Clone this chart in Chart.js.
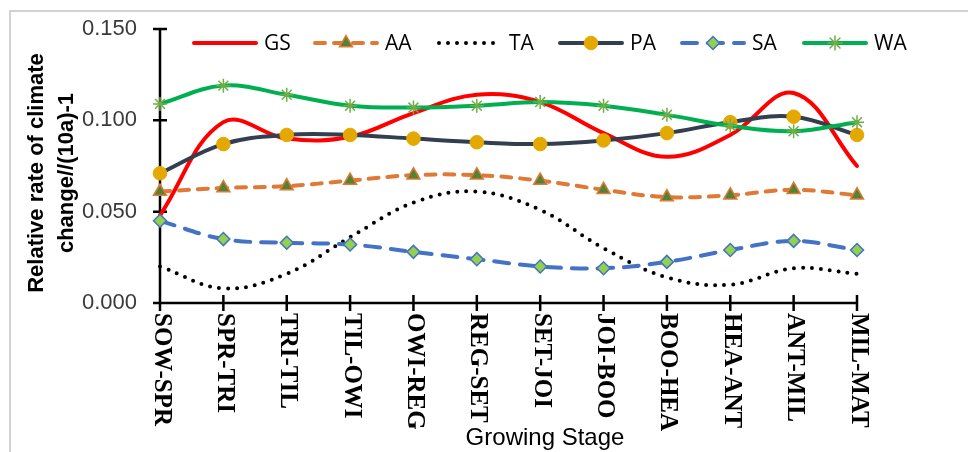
<!DOCTYPE html>
<html>
<head>
<meta charset="utf-8">
<script src="https://cdn.jsdelivr.net/npm/chart.js@4.4.1/dist/chart.umd.min.js"></script>
<style>
html,body{margin:0;padding:0;background:#ffffff;}
#wrap{width:968px;height:452px;position:relative;overflow:hidden;}
</style>
</head>
<body>
<div id="wrap"><canvas id="c" width="968" height="452"></canvas></div>
<script>
// ---- data ----
const categories = ['SOW-SPR','SPR-TRI','TRI-TIL','TIL-OWI','OWI-REG','REG-SET','SET-JOI','JOI-BOO','BOO-HEA','HEA-ANT','ANT-MIL','MIL-MAT'];
const GS = [0.048,0.099,0.090,0.091,0.104,0.114,0.110,0.093,0.080,0.092,0.115,0.075];
const AA = [0.061,0.063,0.064,0.067,0.070,0.070,0.067,0.062,0.058,0.059,0.062,0.059];
const TA = [0.020,0.008,0.016,0.036,0.055,0.061,0.051,0.030,0.014,0.010,0.019,0.016];
const PA = [0.071,0.087,0.092,0.092,0.090,0.088,0.087,0.089,0.093,0.099,0.102,0.092];
const SA = [0.045,0.035,0.033,0.032,0.028,0.024,0.020,0.019,0.0225,0.029,0.034,0.029];
const WA = [0.109,0.119,0.114,0.108,0.107,0.108,0.110,0.108,0.103,0.097,0.094,0.099];
const seriesNames = ['GS','AA','TA','PA','SA','WA'];
const yTicks = [0, 0.05, 0.10, 0.15];
const yTitleLines = ['Relative rate of climate', 'change//(10a)-1'];
const xTitle = 'Growing Stage';

// ---- styles ----
const styles = {
  GS: {borderColor:'#FF0000', borderDash:[], cap:'round', pointStyle:false, r:0},
  AA: {borderColor:'#DE7A35', borderDash:[10,9], cap:'round', pointStyle:'triangle', r:7.5, bg:'#548235', pb:'#DE7A35', pw:1.5},
  TA: {borderColor:'#000000', borderDash:[0,9], cap:'round', pointStyle:false, r:0},
  PA: {borderColor:'#333F50', borderDash:[], cap:'round', pointStyle:'circle', r:6.8, bg:'#E4A900', pb:'#E4A900', pw:1},
  SA: {borderColor:'#4472C4', borderDash:[15,11], cap:'round', pointStyle:'rectRot', r:6.5, bg:'#92D050', pb:'#4472C4', pw:1.5},
  WA: {borderColor:'#00B050', borderDash:[], cap:'round', pointStyle:'star', r:7, bg:'#70AD47', pb:'#70AD47', pw:1.5}
};
const seriesData = {GS, AA, TA, PA, SA, WA};

const datasets = seriesNames.map((name, i) => {
  const s = styles[name];
  return {
    label: name,
    data: seriesData[name],
    borderColor: s.borderColor,
    borderWidth: 4,
    borderDash: s.borderDash,
    borderCapStyle: s.cap,
    borderJoinStyle: 'round',
    tension: 0.38,
    fill: false,
    clip: false,
    order: seriesNames.length - i,
    pointStyle: s.pointStyle || 'circle',
    pointRadius: s.r,
    pointHoverRadius: s.r,
    pointBackgroundColor: s.bg || s.borderColor,
    pointBorderColor: s.pb || s.borderColor,
    pointBorderWidth: s.pw || 0
  };
});

function drawMarker(ctx, style, r, x, y) {
  ctx.beginPath();
  if (style === 'circle') {
    ctx.arc(x, y, r, 0, Math.PI * 2);
    ctx.fill(); ctx.stroke();
  } else if (style === 'triangle') {
    for (let k = 0; k < 3; k++) {
      const a = k * 2 * Math.PI / 3;
      const px = x + Math.sin(a) * r, py = y - Math.cos(a) * r;
      if (k === 0) ctx.moveTo(px, py); else ctx.lineTo(px, py);
    }
    ctx.closePath(); ctx.fill(); ctx.stroke();
  } else if (style === 'rectRot') {
    ctx.moveTo(x, y - r); ctx.lineTo(x + r, y); ctx.lineTo(x, y + r); ctx.lineTo(x - r, y);
    ctx.closePath(); ctx.fill(); ctx.stroke();
  } else if (style === 'star') {
    for (let k = 0; k < 4; k++) {
      const a = k * Math.PI / 4;
      ctx.moveTo(x - Math.cos(a) * r, y - Math.sin(a) * r);
      ctx.lineTo(x + Math.cos(a) * r, y + Math.sin(a) * r);
    }
    ctx.stroke();
  }
}

const legendStarts = [192, 313, 437, 558, 680, 802];

const decor = {
  id: 'decor',
  beforeDraw(chart) {
    const ctx = chart.ctx;
    ctx.save();
    ctx.strokeStyle = '#c4c4c4';
    ctx.lineWidth = 1.5;
    ctx.beginPath();
    ctx.moveTo(10, 452); ctx.lineTo(10, 11); ctx.lineTo(968, 11);
    ctx.stroke();
    ctx.restore();
  },
  beforeDatasetsDraw(chart) {
    const ctx = chart.ctx;
    const xs = chart.scales.x, ys = chart.scales.y;
    const a = chart.chartArea;
    ctx.save();
    ctx.strokeStyle = '#000';
    ctx.lineWidth = 2.5;
    ctx.lineCap = 'butt';
    ctx.beginPath();
    ctx.moveTo(a.left, ys.getPixelForValue(yTicks[yTicks.length - 1]));
    ctx.lineTo(a.left, a.bottom);
    ctx.moveTo(a.left, a.bottom);
    ctx.lineTo(a.right, a.bottom);
    yTicks.forEach(v => {
      const py = ys.getPixelForValue(v);
      ctx.moveTo(a.left - 7, py); ctx.lineTo(a.left + 7, py);
    });
    categories.forEach((c, i) => {
      const px = xs.getPixelForValue(i);
      ctx.moveTo(px, a.bottom - 8); ctx.lineTo(px, a.bottom + 8);
    });
    ctx.stroke();
    ctx.restore();
  },
  afterDraw(chart) {
    const ctx = chart.ctx;
    const xs = chart.scales.x;
    const a = chart.chartArea;
    // x category labels (rotated clockwise)
    ctx.save();
    ctx.fillStyle = '#000';
    ctx.font = 'bold 25px "Liberation Serif"';
    ctx.textAlign = 'left';
    ctx.textBaseline = 'middle';
    categories.forEach((c, i) => {
      const px = xs.getPixelForValue(i);
      ctx.save();
      ctx.translate(px + 1, a.bottom + 10);
      ctx.rotate(Math.PI / 2);
      ctx.fillText(c, 0, 0);
      ctx.restore();
    });
    ctx.restore();
    // x title
    ctx.save();
    ctx.fillStyle = '#000';
    ctx.font = '24px "Liberation Sans"';
    ctx.textAlign = 'center';
    ctx.textBaseline = 'alphabetic';
    ctx.fillText(xTitle, 545, 445);
    ctx.restore();
    // y title
    ctx.save();
    ctx.fillStyle = '#000';
    ctx.font = 'bold 22px "Liberation Sans"';
    ctx.textAlign = 'center';
    ctx.textBaseline = 'middle';
    yTitleLines.forEach((t, i) => {
      ctx.save();
      ctx.translate(37 + i * 30, 173);
      ctx.rotate(-Math.PI / 2);
      ctx.fillText(t, 0, 0);
      ctx.restore();
    });
    ctx.restore();
    // legend
    const ly = 43;
    chart.data.datasets.forEach((ds, i) => {
      const x0 = legendStarts[i];
      ctx.save();
      ctx.strokeStyle = ds.borderColor;
      ctx.lineWidth = ds.borderWidth;
      ctx.lineCap = ds.borderCapStyle;
      ctx.setLineDash(ds.borderDash);
      ctx.beginPath();
      ctx.moveTo(x0 + 2, ly); ctx.lineTo(x0 + 64, ly);
      ctx.stroke();
      ctx.setLineDash([]);
      if (ds.pointRadius > 0) {
        ctx.fillStyle = ds.pointBackgroundColor;
        ctx.strokeStyle = ds.pointBorderColor;
        ctx.lineWidth = ds.pointBorderWidth;
        drawMarker(ctx, ds.pointStyle, ds.pointRadius, x0 + 33, ly);
      }
      ctx.fillStyle = '#000';
      ctx.font = '21px "Open Sans"';
      ctx.textAlign = 'left';
      ctx.textBaseline = 'middle';
      ctx.fillText(ds.label, x0 + 72, ly + 1);
      ctx.restore();
    });
  }
};

new Chart(document.getElementById('c'), {
  type: 'line',
  data: { labels: categories, datasets },
  options: {
    responsive: false,
    animation: false,
    devicePixelRatio: 1,
    events: [],
    layout: { autoPadding: false, padding: { left: 10, right: 111, top: 29, bottom: 0 } },
    plugins: { legend: { display: false }, tooltip: { enabled: false }, title: { display: false } },
    scales: {
      x: {
        type: 'category',
        offset: false,
        grid: { display: false, drawTicks: false },
        border: { display: false },
        ticks: { display: false },
        afterFit(s) { s.height = 149; }
      },
      y: {
        min: 0, max: 0.15,
        afterBuildTicks(s) { s.ticks = yTicks.map(v => ({ value: v })); },
        grid: { display: false, drawTicks: true, tickLength: 23 },
        border: { display: false },
        ticks: {
          callback: v => Number(v).toFixed(3),
          font: { family: 'Liberation Sans', size: 22 },
          color: '#3a3a3a',
          padding: 0
        },
        afterFit(s) { s.width = 150; }
      }
    }
  },
  plugins: [decor]
});
</script>
</body>
</html>
